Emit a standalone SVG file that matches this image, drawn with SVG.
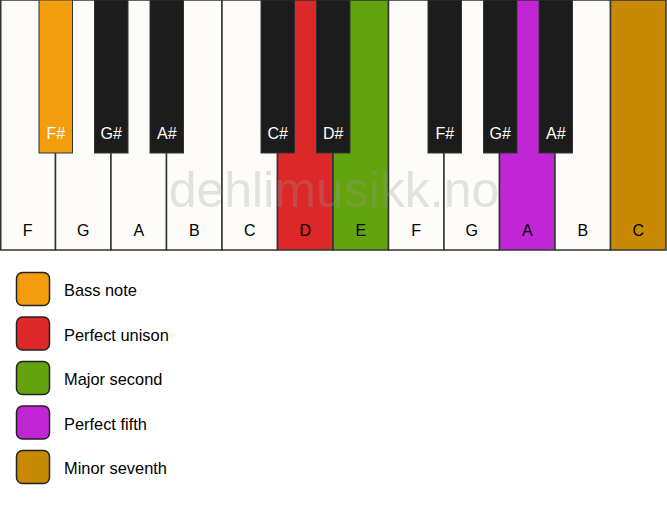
<svg xmlns="http://www.w3.org/2000/svg" width="667" height="506" viewBox="0 0 667 506">
<style>
.w{fill:#FDFCF8;stroke:#333;stroke-width:1.5}
.b{fill:#1C1C1C;stroke:#333;stroke-width:1}
.lw{font-family:"Liberation Sans",Arial,sans-serif;font-size:16px;fill:#000;text-anchor:middle}
.lb{font-family:"Liberation Sans",Arial,sans-serif;font-size:16px;fill:#fff;text-anchor:middle}
.lg{font-family:"Liberation Sans",Arial,sans-serif;font-size:16.4px;fill:#000}
.sq{stroke:#222;stroke-width:1.5}
</style>
<rect width="667" height="506" fill="#fff"/>
<g id="white-keys">
<rect class="w" x="0.75" y="0" width="54.75" height="250"/>
<rect class="w" x="55.5" y="0" width="55.5" height="250"/>
<rect class="w" x="111" y="0" width="55.5" height="250"/>
<rect class="w" x="166.5" y="0" width="55.5" height="250"/>
<rect class="w" x="222" y="0" width="55.5" height="250"/>
<rect class="w" x="277.5" y="0" width="55.5" height="250" style="fill:#DC2828"/>
<rect class="w" x="333" y="0" width="55.5" height="250" style="fill:#62A30E"/>
<rect class="w" x="388.5" y="0" width="55.5" height="250"/>
<rect class="w" x="444" y="0" width="55.5" height="250"/>
<rect class="w" x="499.5" y="0" width="55.5" height="250" style="fill:#C026D3"/>
<rect class="w" x="555" y="0" width="55.5" height="250"/>
<rect class="w" x="610.5" y="0" width="55.5" height="250" style="fill:#C88A04"/>
</g>
<text x="334" y="207" font-family="Liberation Sans,Arial,sans-serif" font-size="50" fill="#999" fill-opacity="0.28" text-anchor="middle">dehlimusikk.no</text>
<g id="white-labels">
<text class="lw" x="27.75" y="236">F</text>
<text class="lw" x="83.25" y="236">G</text>
<text class="lw" x="138.75" y="236">A</text>
<text class="lw" x="194.25" y="236">B</text>
<text class="lw" x="249.75" y="236">C</text>
<text class="lw" x="305.25" y="236">D</text>
<text class="lw" x="360.75" y="236">E</text>
<text class="lw" x="416.25" y="236">F</text>
<text class="lw" x="471.75" y="236">G</text>
<text class="lw" x="527.25" y="236">A</text>
<text class="lw" x="582.75" y="236">B</text>
<text class="lw" x="638.25" y="236">C</text>
</g>
<g id="black-keys">
<rect class="b" x="39" y="0" width="33.5" height="153" style="fill:#F39C0E"/>
<rect class="b" x="94.5" y="0" width="33.5" height="153"/>
<rect class="b" x="150" y="0" width="33.5" height="153"/>
<rect class="b" x="261" y="0" width="33.5" height="153"/>
<rect class="b" x="316.5" y="0" width="33.5" height="153"/>
<rect class="b" x="428" y="0" width="33.5" height="153"/>
<rect class="b" x="483.5" y="0" width="33.5" height="153"/>
<rect class="b" x="539" y="0" width="33.5" height="153"/>
</g>
<g id="black-labels">
<text class="lb" x="55.75" y="139">F#</text>
<text class="lb" x="111.25" y="139">G#</text>
<text class="lb" x="166.75" y="139">A#</text>
<text class="lb" x="277.75" y="139">C#</text>
<text class="lb" x="333.25" y="139">D#</text>
<text class="lb" x="444.75" y="139">F#</text>
<text class="lb" x="500.25" y="139">G#</text>
<text class="lb" x="555.75" y="139">A#</text>
</g>
<g id="legend">
<rect class="sq" x="16.5" y="272.5" width="33" height="33" rx="6" fill="#F39C0E"/>
<text class="lg" x="64" y="296">Bass note</text>
<rect class="sq" x="16.5" y="317" width="33" height="33" rx="6" fill="#DC2828"/>
<text class="lg" x="64" y="340.5">Perfect unison</text>
<rect class="sq" x="16.5" y="361.5" width="33" height="33" rx="6" fill="#62A30E"/>
<text class="lg" x="64" y="385">Major second</text>
<rect class="sq" x="16.5" y="406" width="33" height="33" rx="6" fill="#C026D3"/>
<text class="lg" x="64" y="429.5">Perfect fifth</text>
<rect class="sq" x="16.5" y="450.5" width="33" height="33" rx="6" fill="#C88A04"/>
<text class="lg" x="64" y="474">Minor seventh</text>
</g>
</svg>
